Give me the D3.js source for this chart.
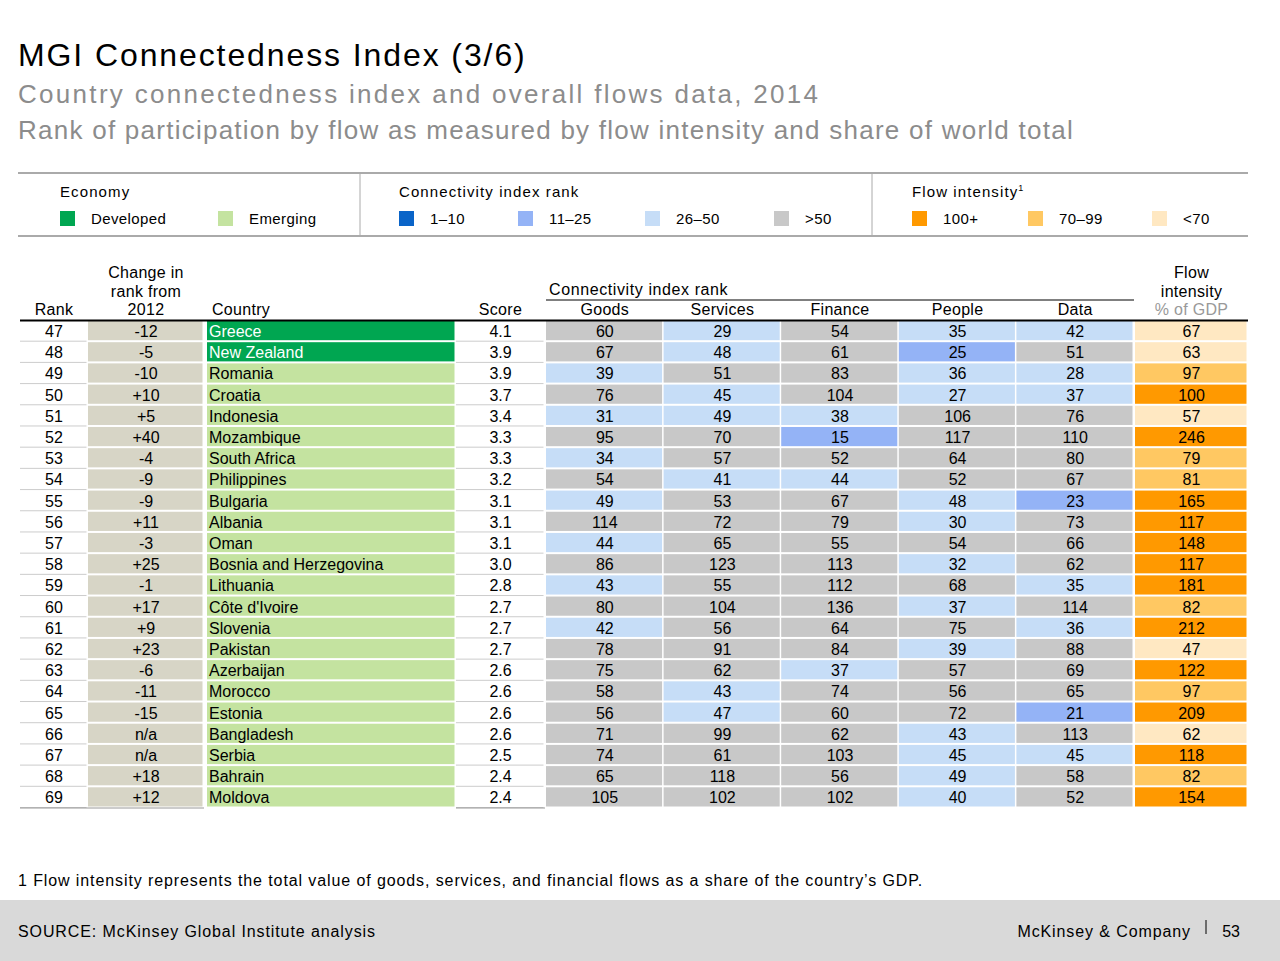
<!DOCTYPE html>
<html><head><meta charset="utf-8">
<script src="https://cdn.jsdelivr.net/npm/d3@7"></script>
<style>body{margin:0;background:#fff;font-family:"Liberation Sans",Arial,sans-serif}</style>
</head><body><svg id="chart" width="1280" height="961"></svg>
<script>
const ranks = d3.range(47, 70);
const changes = ["-12","-5","-10","+10","+5","+40","-4","-9","-9","+11","-3","+25","-1","+17","+9","+23","-6","-11","-15","n/a","n/a","+18","+12"];
const countries = ["Greece","New Zealand","Romania","Croatia","Indonesia","Mozambique","South Africa","Philippines","Bulgaria","Albania","Oman","Bosnia and Herzegovina","Lithuania","Côte d'Ivoire","Slovenia","Pakistan","Azerbaijan","Morocco","Estonia","Bangladesh","Serbia","Bahrain","Moldova"];
const developed = ["Greece","New Zealand"];
const scores = ["4.1","3.9","3.9","3.7","3.4","3.3","3.3","3.2","3.1","3.1","3.1","3.0","2.8","2.7","2.7","2.7","2.6","2.6","2.6","2.6","2.5","2.4","2.4"];
const goods = [60,67,39,76,31,95,34,54,49,114,44,86,43,80,42,78,75,58,56,71,74,65,105];
const services = [29,48,51,45,49,70,57,41,53,72,65,123,55,104,56,91,62,43,47,99,61,118,102];
const finance = [54,61,83,104,38,15,52,44,67,79,55,113,112,136,64,84,37,74,60,62,103,56,102];
const people = [35,25,36,27,106,117,64,52,48,30,54,32,68,37,75,39,57,56,72,43,45,49,40];
const data = [42,51,28,37,76,110,80,67,23,73,66,62,35,114,36,88,69,65,21,113,45,58,52];
const flow = [67,63,97,100,57,246,79,81,165,117,148,117,181,82,212,47,122,97,209,62,118,82,154];
const flowNames = ["Goods","Services","Finance","People","Data"];

const C = {dev:"#00a651", emg:"#c4e3a0", b1:"#0a64c8", b2:"#94b3f6", b3:"#c6ddf7", gray:"#c8c8c8",
  o1:"#ff9900", o2:"#ffc862", o3:"#ffe8c2", chg:"#d7d5c6"};
const rankColor = v => v <= 10 ? C.b1 : v <= 25 ? C.b2 : v <= 50 ? C.b3 : C.gray;
const flowColor = v => v >= 100 ? C.o1 : v >= 70 ? C.o2 : C.o3;

const svg = d3.select("#chart");
const txt = (x, y, s, o = {}) => svg.append("text").attr("x", x).attr("y", y).text(s)
  .attr("font-size", o.size || 16).attr("fill", o.fill || "#000").attr("text-anchor", o.anchor || "start")
  .attr("letter-spacing", o.ls || 0);

// titles
txt(18, 66, "MGI Connectedness Index (3/6)", {size: 32, ls: 1.9});
txt(18, 103, "Country connectedness index and overall flows data, 2014", {size: 26, ls: 2.3});
svg.select("text:last-child").attr("fill", "#8c8c8c");
txt(18, 139, "Rank of participation by flow as measured by flow intensity and share of world total", {size: 26, fill: "#8c8c8c", ls: 1.25});
svg.selectAll("text").filter((d, i) => i === 1).attr("fill", "#8c8c8c");

// legend
svg.append("line").attr("x1", 18).attr("x2", 1248).attr("y1", 173).attr("y2", 173).attr("stroke", "#aaa").attr("stroke-width", 2);
svg.append("line").attr("x1", 18).attr("x2", 1248).attr("y1", 236).attr("y2", 236).attr("stroke", "#aaa").attr("stroke-width", 2);
[360, 872].forEach(x => svg.append("line").attr("x1", x).attr("x2", x).attr("y1", 173).attr("y2", 236).attr("stroke", "#aaa"));
const legends = [
  {x: 60, title: "Economy", items: [[C.dev, "Developed", 60], [C.emg, "Emerging", 218]]},
  {x: 399, title: "Connectivity index rank", items: [[C.b1, "1–10", 399], [C.b2, "11–25", 518], [C.b3, "26–50", 645], [C.gray, ">50", 774]]},
  {x: 912, title: "Flow intensity", items: [[C.o1, "100+", 912], [C.o2, "70–99", 1028], [C.o3, "<70", 1152]]}
];
legends.forEach(g => {
  const t = txt(g.x, 197, g.title, {size: 15, ls: 1.1});
  if (g.title === "Flow intensity") t.append("tspan").attr("dy", -6).attr("font-size", 9).text("1");
  g.items.forEach(([c, l, x]) => {
    svg.append("rect").attr("x", x).attr("y", 211).attr("width", 15).attr("height", 15).attr("fill", c);
    txt(x + 31, 224, l, {size: 15, ls: 0.4});
  });
});

// table columns
const cols = [
  {key: "rank", x0: 20, x1: 88},
  {key: "chg", x0: 88, x1: 204},
  {key: "country", x0: 207, x1: 456},
  {key: "score", x0: 456, x1: 545},
  ...flowNames.map((n, i) => ({key: n, x0: 546 + i * 117.6, x1: 546 + (i + 1) * 117.6})),
  {key: "flow", x0: 1135, x1: 1248}
];
const y = d3.scaleBand().domain(ranks).range([321, 808.5]);
const series = {Goods: goods, Services: services, Finance: finance, People: people, Data: data};

// headers
const hdr = (c, lines, opt = {}) => lines.forEach((l, i) =>
  txt(opt.anchor === "start" ? c.x0 + 5 : (c.x0 + c.x1) / 2, 315 - (lines.length - 1 - i) * 18.5, l,
    {anchor: opt.anchor || "middle", ls: 0.3, fill: (opt.greyLast && i === lines.length - 1) ? "#999" : "#000"}));
hdr(cols[0], ["Rank"]);
hdr(cols[1], ["Change in", "rank from", "2012"]);
hdr(cols[2], ["Country"], {anchor: "start"});
hdr(cols[3], ["Score"]);
cols.slice(4, 9).forEach(c => hdr(c, [c.key]));
hdr(cols[9], ["Flow", "intensity", "% of GDP"], {greyLast: true});
txt(549, 295, "Connectivity index rank", {ls: 0.6});
svg.append("line").attr("x1", 546).attr("x2", 1134).attr("y1", 300).attr("y2", 300).attr("stroke", "#000");

// rows
ranks.forEach((r, i) => {
  const yy = y(r), h = y.bandwidth();
  const cells = [
    [cols[0], r, null, "middle"],
    [cols[1], changes[i], C.chg, "middle"],
    [cols[2], countries[i], developed.includes(countries[i]) ? C.dev : C.emg, "start"],
    [cols[3], scores[i], null, "middle"],
    ...flowNames.map((n, k) => [cols[4 + k], series[n][i], rankColor(series[n][i]), "middle"]),
    [cols[9], flow[i], flowColor(flow[i]), "middle"]
  ];
  cells.forEach(([c, v, fill, anchor]) => {
    if (fill) svg.append("rect").attr("x", c.x0).attr("y", yy).attr("width", c.x1 - c.x0 - 1.5)
      .attr("height", h - 2).attr("fill", fill);
    else svg.append("line").attr("x1", c.x0).attr("x2", c.x1 - 1.5).attr("y1", yy + h - 1).attr("y2", yy + h - 1)
      .attr("stroke", "#ccc");
    const white = fill === C.dev;
    txt(anchor === "start" ? c.x0 + 2 : (c.x0 + c.x1) / 2, yy + h / 2 + 5.5, v,
      {anchor, fill: white ? "#fff" : "#000"});
  });
});
svg.append("line").attr("x1", 20).attr("x2", 1248).attr("y1", 320.5).attr("y2", 320.5).attr("stroke", "#000").attr("stroke-width", 2);
svg.append("line").attr("x1", 20).attr("x2", 204).attr("y1", 808).attr("y2", 808).attr("stroke", "#999");
svg.append("line").attr("x1", 456).attr("x2", 545).attr("y1", 808).attr("y2", 808).attr("stroke", "#999");

// footnote & footer
txt(18, 886, "1 Flow intensity represents the total value of goods, services, and financial flows as a share of the country’s GDP.", {ls: 0.9});
svg.append("rect").attr("x", 0).attr("y", 900).attr("width", 1280).attr("height", 61).attr("fill", "#d9d9d9");
txt(18, 937, "SOURCE: McKinsey Global Institute analysis", {ls: 0.9});
txt(1191, 937, "McKinsey & Company", {anchor: "end", ls: 0.9});
svg.append("line").attr("x1", 1206).attr("x2", 1206).attr("y1", 920).attr("y2", 934).attr("stroke", "#000");
txt(1240, 937, "53", {anchor: "end"});
</script></body></html>
